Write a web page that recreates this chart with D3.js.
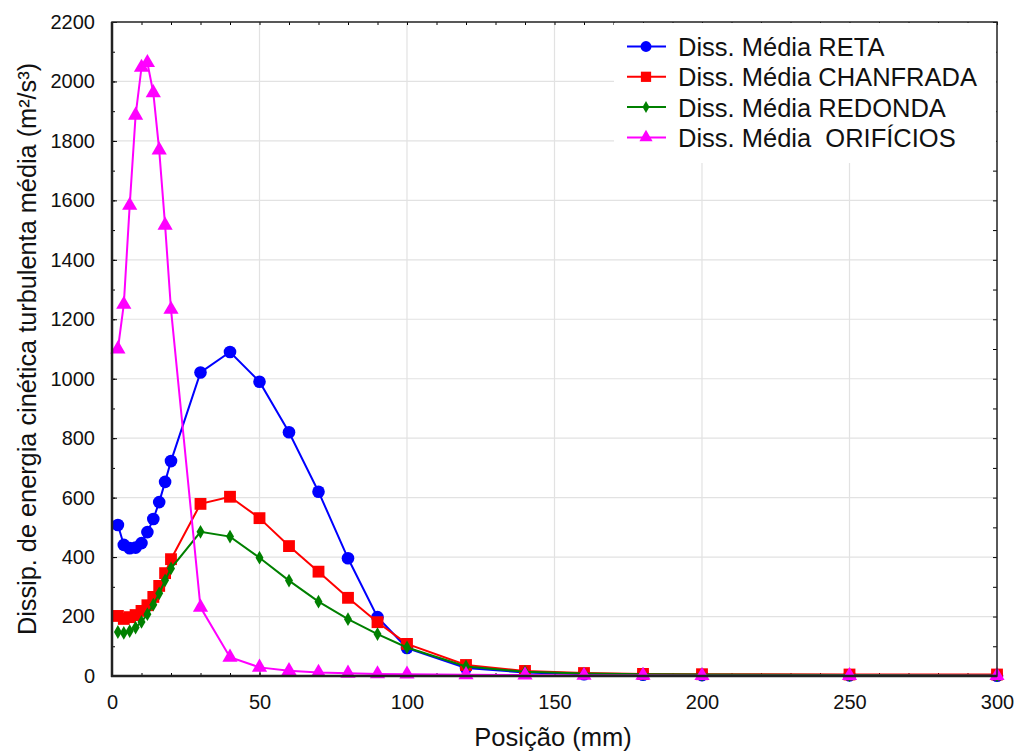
<!DOCTYPE html>
<html><head><meta charset="utf-8">
<script src="https://cdn.jsdelivr.net/npm/d3@7"></script>
<style>body{margin:0;background:#fff}svg{display:block}text{font-family:"Liberation Sans",Arial,sans-serif}</style>
</head><body><svg id="c" width="1019" height="753"></svg>
<script>
const positions = [2,4,6,8,10,12,14,16,18,20,30,40,50,60,70,80,90,100,120,140,160,180,200,250,300];
const reta      = [508,441,430,432,447,484,528,585,653,723,1021,1090,990,820,620,396,198,94,27,12,6,4,3,2,1];
const chanfrada = [202,192,198,205,219,238,266,303,346,393,579,603,531,437,351,263,181,108,37,17,10,7,6,5,5];
const redonda   = [148,145,151,163,182,208,240,278,322,362,485,469,398,321,250,191,141,96,32,14,8,6,5,3,2];
const orificios = [1100,1250,1583,1886,2047,2063,1962,1769,1516,1233,231,63,29,18,12,9,7,6,4,3,2,2,1,1,1];
const seriesNames = ["Diss. Média RETA","Diss. Média CHANFRADA","Diss. Média REDONDA","Diss. Média  ORIFÍCIOS"];
const xTicks = [0,50,100,150,200,250,300];
const yTicks = [0,200,400,600,800,1000,1200,1400,1600,1800,2000,2200];

const series = [
  {name:seriesNames[0], values:reta, color:"#0000ff", shape:"circle"},
  {name:seriesNames[1], values:chanfrada, color:"#ff0000", shape:"square"},
  {name:seriesNames[2], values:redonda, color:"#008000", shape:"diamond"},
  {name:seriesNames[3], values:orificios, color:"#ff00ff", shape:"triangle"}
];

const L=112, R=997, T=22, B=676;
const svg=d3.select("#c");
const x=d3.scaleLinear().domain([0,300]).range([L,R]);
const y=d3.scaleLinear().domain([0,2200]).range([B,T]);

// gridlines
svg.append("g").selectAll("line").data(xTicks.slice(1,-1)).join("line")
  .attr("x1",d=>x(d)).attr("x2",d=>x(d)).attr("y1",T).attr("y2",B)
  .attr("stroke","#e2e2e2").attr("stroke-width",1.2);
svg.append("g").selectAll("line").data(yTicks.slice(1,-1)).join("line")
  .attr("y1",d=>y(d)).attr("y2",d=>y(d)).attr("x1",L).attr("x2",R)
  .attr("stroke","#e2e2e2").attr("stroke-width",1.2);

// axes with inward ticks
const xMinor=d3.range(0,301,10), yMinor=d3.range(0,2201,100);
svg.append("g").attr("transform",`translate(0,${B})`)
  .call(d3.axisBottom(x).tickValues(xMinor).tickSize(-3).tickFormat(""))
  .call(g=>g.select(".domain").remove());
svg.append("g").attr("transform",`translate(0,${B})`)
  .call(d3.axisBottom(x).tickValues(xTicks).tickSize(-5).tickPadding(19).tickFormat(d3.format("d")))
  .call(g=>{g.select(".domain").remove();g.selectAll("text").attr("font-size",20).attr("fill","#111");});
svg.append("g").attr("transform",`translate(0,${T})`)
  .call(d3.axisTop(x).tickValues(xMinor).tickSize(-3).tickFormat(""))
  .call(g=>g.select(".domain").remove());
svg.append("g").attr("transform",`translate(${L},0)`)
  .call(d3.axisLeft(y).tickValues(yMinor).tickSize(-3).tickFormat(""))
  .call(g=>g.select(".domain").remove());
svg.append("g").attr("transform",`translate(${L},0)`)
  .call(d3.axisLeft(y).tickValues(yTicks).tickSize(-5).tickPadding(17).tickFormat(d3.format("d")))
  .call(g=>{g.select(".domain").remove();g.selectAll("text").attr("font-size",20).attr("fill","#111");});
svg.append("g").attr("transform",`translate(${R},0)`)
  .call(d3.axisRight(y).tickValues(yMinor).tickSize(-4).tickFormat(""))
  .call(g=>g.select(".domain").remove());

// series
const symType={circle:d3.symbolCircle,square:d3.symbolSquare,diamond:d3.symbolDiamond,triangle:d3.symbolTriangle};
const symSize={circle:125,square:140,diamond:55,triangle:100};
const line=d3.line().x(d=>x(d[0])).y(d=>y(d[1]));
const plot=svg.append("g");
series.forEach(s=>{
  const pts=positions.map((p,i)=>[p,s.values[i]]);
  const g=plot.append("g");
  g.append("path").attr("d",line(pts)).attr("fill","none").attr("stroke",s.color).attr("stroke-width",2);
  g.selectAll("path.m").data(pts).join("path").attr("class","m")
    .attr("transform",d=>`translate(${x(d[0])},${y(d[1])})`)
    .attr("d",d3.symbol(symType[s.shape],symSize[s.shape]))
    .attr("fill",s.color);
});

// frame
svg.append("rect").attr("x",L).attr("y",T).attr("width",R-L).attr("height",B-T)
  .attr("fill","none").attr("stroke","#222").attr("stroke-width",1.5);
svg.append("line").attr("x1",L).attr("x2",L).attr("y1",T).attr("y2",B+1).attr("stroke","#222").attr("stroke-width",2.5);
svg.append("line").attr("x1",L-1).attr("x2",R).attr("y1",B).attr("y2",B).attr("stroke","#222").attr("stroke-width",2.5);

// legend
const lg=svg.append("g");
lg.append("rect").attr("x",614).attr("y",T+1).attr("width",R-614-1).attr("height",140).attr("fill","#fff");
series.forEach((s,i)=>{
  const cy=46.5+i*30.3;
  lg.append("line").attr("x1",627).attr("x2",666).attr("y1",cy).attr("y2",cy).attr("stroke",s.color).attr("stroke-width",2);
  lg.append("path").attr("transform",`translate(646,${cy})`)
    .attr("d",d3.symbol(symType[s.shape],symSize[s.shape]*0.75)).attr("fill",s.color);
  lg.append("text").attr("x",678).attr("y",cy+9.5).attr("font-size",25.5).attr("fill","#111")
    .style("white-space","pre").text(s.name);
});

// axis titles
svg.append("text").attr("x",553).attr("y",746).attr("text-anchor","middle")
  .attr("font-size",25.5).attr("fill","#111").text("Posição (mm)");
svg.append("text").attr("transform",`translate(36,349) rotate(-90)`).attr("text-anchor","middle")
  .attr("font-size",25.3).attr("fill","#111").text("Dissip. de energia cinética turbulenta média (m²/s³)");
</script></body></html>
